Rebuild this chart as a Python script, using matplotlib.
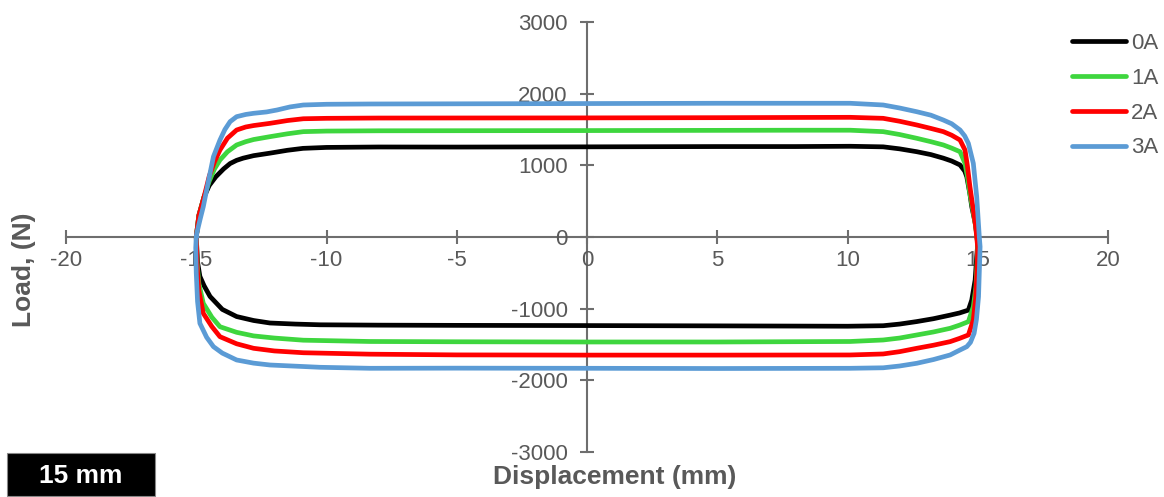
"""
Load vs displacement loops at 0-3 A.
Saves out.png (1164x497).
"""
import matplotlib.pyplot as plt
from matplotlib.patches import Rectangle

plt.rcParams["font.family"] = ["Liberation Sans", "DejaVu Sans"]
plt.rcParams["axes.unicode_minus"] = False

# 0A
disp_0a = [-15.0, -14.9, -14.7, -14.5, -14.25, -13.95, -13.7, -13.45, -13.2, -12.8, -12.17, -11.5,
           -10.9, -10.0, -8.0, -5.0, 0.0, 5.0, 8.0, 10.1, 11.37, 12.0, 12.66, 13.2, 13.68, 14.0,
           14.32, 14.5, 14.58, 14.7, 14.77, 14.9, 14.96,
           15.0, 14.96, 14.9, 14.77, 14.64, 14.3, 13.94, 13.3, 12.66, 12.0, 11.37, 10.0, 5.0, 0.0,
           -5.0, -8.0, -10.25, -11.2, -12.17, -12.8, -13.45, -14.0, -14.47, -14.7, -14.86, -14.95, -15.0]
load_0a = [0, 300, 560, 720, 840, 950, 1025, 1070, 1100, 1135, 1170, 1210,
           1237, 1250, 1256, 1255, 1258, 1262, 1262, 1266, 1258, 1230, 1190, 1150, 1100, 1060,
           1005, 920, 840, 600, 423, 200, 50,
           -100, -275, -600, -880, -1020, -1060, -1090, -1140, -1180, -1215, -1238, -1245, -1240, -1236,
           -1233, -1230, -1225, -1215, -1200, -1165, -1110, -1010, -830, -680, -550, -350, 0]

# 1A
disp_1a = [-15.0, -14.9, -14.7, -14.5, -14.3, -14.09, -13.8, -13.45, -13.1, -12.8, -12.17, -11.5,
           -10.89, -10.0, -8.0, 0.0, 5.0, 8.0, 10.1, 11.37, 12.0, 12.66, 13.2, 13.68, 14.0, 14.32,
           14.51, 14.6, 14.7, 14.8, 14.92,
           15.0, 14.97, 14.93, 14.83, 14.64, 14.3, 13.94, 13.3, 12.66, 12.0, 11.37, 10.1, 5.0, 0.0,
           -5.0, -8.33, -10.89, -12.0, -12.8, -13.45, -14.09, -14.4, -14.73, -14.9, -14.97, -15.0]
load_1a = [0, 300, 560, 780, 950, 1074, 1190, 1284, 1330, 1360, 1400, 1440,
           1470, 1478, 1482, 1485, 1488, 1490, 1490, 1470, 1430, 1377, 1330, 1284, 1240, 1190,
           1028, 850, 600, 400, 150,
           -100, -400, -700, -972, -1181, -1230, -1274, -1325, -1367, -1410, -1437, -1458, -1465, -1465,
           -1462, -1458, -1440, -1410, -1380, -1330, -1252, -1120, -925, -650, -350, 0]

# 2A
disp_2a = [-15.0, -14.9, -14.7, -14.5, -14.3, -14.09, -13.8, -13.45, -13.1, -12.8, -12.17, -11.5,
           -10.89, -10.0, -8.0, 0.0, 5.0, 8.0, 10.1, 11.37, 12.0, 12.66, 13.2, 13.68, 14.0, 14.32,
           14.51, 14.6, 14.7, 14.8, 14.92,
           15.0, 14.97, 14.92, 14.83, 14.64, 14.3, 13.94, 13.3, 12.66, 12.0, 11.37, 10.1, 5.0, 0.0,
           -5.0, -8.33, -10.89, -12.0, -12.8, -13.45, -14.09, -14.4, -14.73, -14.9, -14.97, -15.0]
load_2a = [0, 300, 560, 850, 1050, 1214, 1380, 1493, 1535, 1555, 1586, 1625,
           1650, 1656, 1660, 1662, 1665, 1668, 1670, 1656, 1615, 1563, 1515, 1470, 1420, 1353,
           1214, 1000, 700, 450, 150,
           -150, -500, -850, -1158, -1367, -1415, -1460, -1510, -1553, -1600, -1632, -1646, -1648, -1648,
           -1645, -1635, -1615, -1590, -1553, -1490, -1391, -1250, -1065, -750, -400, 0]

# 3A
disp_3a = [-15.0, -14.98, -14.85, -14.73, -14.55, -14.34, -14.09, -13.9, -13.7, -13.45, -13.1, -12.8,
           -12.3, -11.9, -11.4, -10.89, -10.0, -8.33, 0.0, 5.0, 10.1, 11.37, 12.0, 12.66, 13.2, 13.68,
           14.0, 14.32, 14.5, 14.64, 14.83, 14.96, 15.06,
           15.09, 15.03, 14.95, 14.86, 14.72, 14.58, 14.3, 13.94, 13.3, 12.66, 12.0, 11.37, 10.1, 5.0,
           0.0, -5.0, -8.33, -10.25, -12.17, -12.8, -13.45, -14.0, -14.34, -14.6, -14.86, -14.95,
           -15.0, -15.02, -15.0]
load_3a = [0, 52, 250, 423, 750, 1121, 1353, 1500, 1610, 1679, 1710, 1726,
           1745, 1772, 1815, 1842, 1852, 1856, 1862, 1866, 1866, 1842, 1800, 1748, 1700, 1632,
           1580, 1493, 1410, 1307, 1028, 562, 0,
           -135, -833, -1150, -1344, -1470, -1530, -1580, -1646, -1710, -1762, -1800, -1825, -1832,
           -1835, -1832, -1830, -1832, -1818, -1786, -1760, -1716, -1620, -1530, -1400, -1205, -900,
           -500, -150, 0]

series_labels = ["0A", "1A", "2A", "3A"]
series_colors = ["#000000", "#3ed63e", "#ff0000", "#5b9bd5"]

GRAY_AXIS = "#6e6e6e"
GRAY_TEXT = "#595959"
W, H = 1164, 497


def graficar():
    fig = plt.figure(figsize=(W / 100, H / 100), dpi=100)
    ax = fig.add_axes([66 / W, 45 / H, 1042 / W, 430 / H])

    curvas = [(disp_0a, load_0a), (disp_1a, load_1a), (disp_2a, load_2a), (disp_3a, load_3a)]
    for (x, y), lab, col in zip(curvas, series_labels, series_colors):
        ax.plot(x, y, color=col, lw=3.4, label=lab, solid_joinstyle="round",
                solid_capstyle="round", clip_on=False)

    ax.set_xlim(-20, 20)
    ax.set_ylim(-3000, 3000)
    ax.set_xticks(range(-20, 21, 5))
    ax.set_yticks(range(-3000, 3001, 1000))

    for side in ["left", "bottom"]:
        ax.spines[side].set_position("zero")
        ax.spines[side].set_color(GRAY_AXIS)
        ax.spines[side].set_linewidth(1.5)
        ax.spines[side].set_zorder(0.5)
    ax.spines["top"].set_visible(False)
    ax.spines["right"].set_visible(False)
    ax.patch.set_visible(False)

    ax.tick_params(direction="inout", length=10, width=1.5, color=GRAY_AXIS,
                   labelcolor=GRAY_TEXT, labelsize=16)
    ax.tick_params(axis="x", pad=4)
    ax.tick_params(axis="y", pad=9)

    ax.legend(loc="upper left", bbox_to_anchor=(1072 / W, 1 - 33 / H),
              bbox_transform=fig.transFigure, frameon=False, fontsize=16,
              handlelength=2.45, handletextpad=0.2, labelspacing=0.62,
              labelcolor=GRAY_TEXT, borderaxespad=0, borderpad=0)

    fig.text(24 / W, 1 - 270 / H, "Load, (N)", rotation=90, ha="center", va="center",
             fontsize=19, fontweight="bold", color=GRAY_TEXT)
    fig.text(615 / W, 1 - 477 / H, "Displacement (mm)", ha="center", va="center",
             fontsize=19, fontweight="bold", color=GRAY_TEXT)

    # escala
    fig.patches.append(Rectangle((7 / W, 1 / H), 148 / W, 43 / H, transform=fig.transFigure,
                                 facecolor="black", edgecolor="#888888", lw=0.8))
    fig.text(81 / W, 1 - 476 / H, "15 mm", ha="center", va="center",
             fontsize=19, fontweight="bold", color="white")

    fig.savefig("out.png", dpi=100)
    plt.close(fig)


if __name__ == "__main__":
    graficar()
